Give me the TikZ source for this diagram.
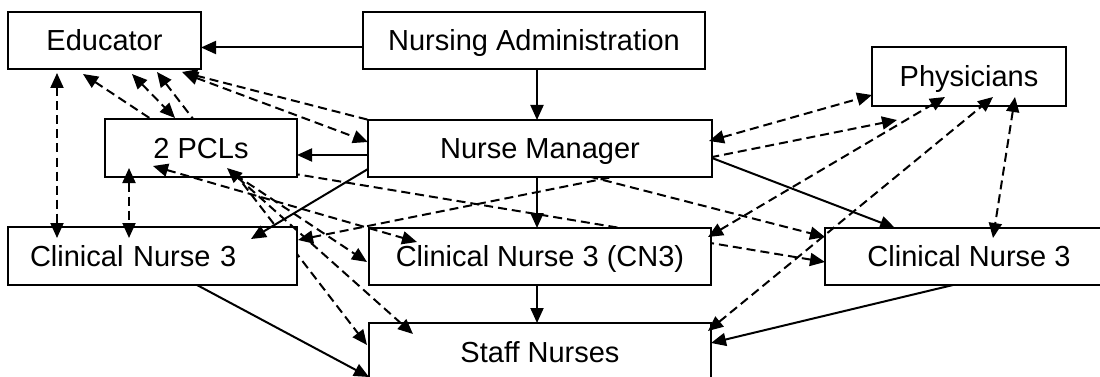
\documentclass[tikz,border=0pt]{standalone}
\usepackage{fontspec}
\setmainfont{Liberation Sans}
\usetikzlibrary{arrows.meta,calc}
\pgfdeclarelayer{back}
\pgfsetlayers{back,main}
\begin{document}
\begin{tikzpicture}[x=1pt,y=-1pt,
  box/.style={draw=black,fill=white,line width=2.4pt,inner sep=0pt,outer sep=0pt,
    font=\fontsize{29}{34}\selectfont,text height=20.8pt,text depth=0pt},
  link/.style={line width=2pt},
  tip/.tip={Triangle[length=15pt,width=13pt]},
  sol/.style={link,-tip},
  dsh/.style={link,dash pattern=on 9pt off 5pt,tip-tip},
  dshone/.style={link,dash pattern=on 9pt off 5pt,-tip}]
\useasboundingbox (0,0) rectangle (1100,377);

% boxes
\node[box,minimum width=193pt,minimum height=57pt] (edu) at (104.5,40.5) {Educator};
\node[box,minimum width=342pt,minimum height=57pt] (admin) at (534,40.5) {Nursing Administration};
\node[box,minimum width=194pt,minimum height=59pt] (phys) at (969,76.5) {Physicians};
\node[box,minimum width=192pt,minimum height=58pt] (pcl) at (201,148) {2 PCLs};
\node[box,minimum width=344pt,minimum height=57pt] (nm) at (540,148.5) {Nurse Manager};
\node[box,minimum width=289pt,minimum height=58pt,text width=245pt,align=left] (cnl) at (152.5,256) {Clinical Nurse 3};
\node[box,minimum width=342pt,minimum height=57pt] (cnm) at (540,256.5) {Clinical Nurse 3 (CN3)};
\node[box,minimum width=288pt,minimum height=57pt] (cnr) at (969,256.5) {Clinical Nurse 3};
\node[box,minimum width=342pt,minimum height=58pt] (staff) at (540,352) {Staff Nurses};

\coordinate (pfree) at ($(phys.south west)+(25,14)$);

% links that run behind the boxes
\begin{pgfonlayer}{back}
\draw[dsh] ($(edu.south west)+(75,5)$) -- ($(cnm.west)+(-2,5.5)$);
\draw[dsh] ($(edu.south west)+(149,3)$) -- ($(staff.west)+(-2,-7)$);
\draw[dsh] ($(edu.south west)+(174,3)$) -- ($(cnr.west)+(0,-19.5)$);
\draw[dshone] ($(pcl.south east)+(-20,-6)$) -- ($(cnr.west)+(0,5.5)$);
\draw[dsh] ($(cnl.east)+(1,-16)$) -- (pfree);
\end{pgfonlayer}

% line of authority
\draw[sol] ($(admin.west)+(0,7)$) -- ($(edu.east)+(0,7)$);
\draw[sol] ($(admin.south)+(3,0)$) -- ($(nm.north)+(-3,0)$);
\draw[sol] ($(nm.west)+(0,6.5)$) -- ($(pcl.east)+(0,7)$);
\draw[sol] ($(nm.south west)+(0,-8)$) -- ($(cnl.north east)+(-46,12)$);
\draw[sol] ($(nm.south)+(-3,0)$) -- ($(cnm.north)+(-3,0)$);
\draw[sol] ($(nm.east)+(0,9.5)$) -- ($(cnr.north west)+(70,0)$);
\draw[sol] ($(cnm.south)+(-3,0)$) -- ($(staff.north)+(-3,0)$);
\draw[sol] ($(cnl.south west)+(189,0)$) -- ($(staff.west)+(0,25)$);
\draw[sol] ($(cnr.south west)+(128,0)$) -- ($(staff.east)+(0,-9)$);

% two-way communication
\draw[dsh] ($(edu.south west)+(49,4)$) -- ($(cnl.north west)+(49,11)$);
\draw[dsh] ($(pcl.south west)+(24,-9)$) -- ($(cnl.north west)+(121,11)$);
\draw[dsh] ($(edu.south west)+(124,5)$) -- ($(pcl.north west)+(70,-1)$);
\draw[dsh] ($(edu.south west)+(175,4)$) -- ($(nm.west)+(0,-6.5)$);
\draw[dsh] ($(pcl.south west)+(48,-11)$) -- ($(cnm.north west)+(48,14)$);
\draw[dsh] ($(pcl.south west)+(122,-9)$) -- ($(staff.north west)+(44,11)$);
\draw[dsh] ($(nm.east)+(-3,-7.5)$) -- ($(phys.south west)+(0,-11)$);
\draw[dsh] ($(cnm.north east)+(-3,9)$) -- ($(phys.south west)+(73,-9)$);
\draw[dsh] ($(staff.north east)+(-3,8)$) -- ($(phys.south west)+(121,-9)$);
\draw[dsh] ($(phys.south west)+(143,-9)$) -- ($(cnr.north west)+(168,10)$);
\end{tikzpicture}
\end{document}
